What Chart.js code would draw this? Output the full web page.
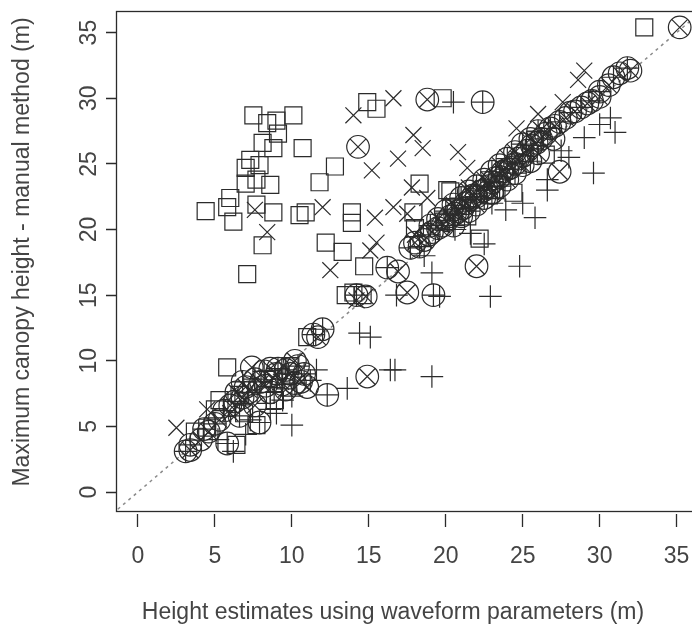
<!DOCTYPE html>
<html>
<head>
<meta charset="utf-8">
<script src="https://cdn.jsdelivr.net/npm/chart.js@4.4.1/dist/chart.umd.min.js"></script>
<style>
  html, body { margin: 0; padding: 0; background: #fff; }
  #wrap { width: 692px; height: 628px; }
</style>
</head>
<body>
<div id="wrap"><canvas id="chart-scatter" width="692" height="628"></canvas></div>
<script>
// Height estimates (waveform) vs manual canopy height, one array per plotting symbol
var xTicks = [0, 5, 10, 15, 20, 25, 30, 35];
var yTicks = [0, 5, 10, 15, 20, 25, 30, 35];
var xTitle = 'Height estimates using waveform parameters (m)';
var yTitle = 'Maximum canopy height - manual method (m)';

// open squares
var squarePts = [
  [4.4, 21.4], [5.8, 21.7], [6.0, 22.4], [6.2, 20.6], [7.0, 23.5], [7.0, 24.7], [7.3, 25.3],
  [7.5, 28.7], [7.7, 21.9], [7.7, 23.8], [7.9, 24.9], [8.1, 26.6], [8.1, 18.8], [7.1, 16.6],
  [8.4, 28.1], [8.6, 23.4], [8.8, 26.2], [8.8, 21.3], [9.0, 28.3], [9.1, 27.3], [10.1, 28.7],
  [10.5, 21.1], [10.9, 21.3], [10.7, 26.2], [11.8, 23.6], [12.8, 24.8], [13.9, 21.3], [13.9, 20.5],
  [12.2, 19.0], [13.3, 18.3], [14.7, 17.2], [13.5, 15.0], [14.0, 15.2], [14.6, 15.0], [11.0, 11.8],
  [17.9, 21.3], [18.0, 20.1], [20.3, 22.9], [14.9, 29.7], [15.5, 29.2], [19.8, 30.0], [18.3, 23.5],
  [20.1, 23.0], [32.9, 35.4], [5.8, 9.5], [4.5, 4.9], [5.3, 7.0], [7.7, 5.1], [6.4, 3.6],
  [8.8, 8.6], [5.0, 6.3], [6.6, 7.4], [8.3, 7.4], [3.7, 4.6], [9.6, 8.5], [24.4, 22.8],
  [22.2, 19.3], [19.9, 20.6], [23.8, 24.5], [25.8, 26.8], [22.8, 22.6], [26.5, 25.7],
  [6.9, 6.0], [8.9, 7.0], [9.9, 9.6], [21.4, 21.0], [23.2, 23.0]
];

// plus signs
var plusPts = [
  [20.5, 29.7], [31.0, 27.4], [30.7, 28.5], [29.6, 24.3], [26.6, 23.8], [26.6, 23.0], [23.9, 21.5],
  [25.8, 20.9], [22.5, 18.9], [24.8, 17.2], [22.9, 14.9], [19.1, 16.7], [16.8, 15.0], [19.6, 14.9],
  [14.4, 12.1], [15.1, 11.8], [11.6, 9.3], [16.4, 9.3], [16.7, 9.3], [19.1, 8.8], [13.6, 7.9],
  [10.0, 5.1], [9.4, 7.0], [6.2, 3.1], [21.6, 19.7], [7.3, 5.5], [8.6, 6.3], [5.2, 4.0],
  [7.0, 4.4], [9.0, 6.0], [11.2, 8.5], [10.0, 7.3], [25.0, 22.0], [28.0, 25.5], [29.0, 27.0],
  [30.0, 28.0], [27.5, 26.0], [23.0, 22.0], [20.6, 20.0], [18.6, 18.0]
];

// diagonal crosses
var crossPts = [
  [16.6, 30.0], [14.0, 28.7], [17.9, 27.2], [18.5, 26.2], [20.8, 25.9], [21.4, 24.7], [15.2, 24.5],
  [16.9, 25.4], [29.0, 32.1], [28.6, 31.4], [27.6, 29.7], [26.0, 28.8], [24.6, 27.7], [12.0, 21.7],
  [15.4, 20.9], [15.5, 19.0], [12.5, 16.9], [15.1, 18.4], [17.8, 23.2], [18.8, 22.4], [16.6, 21.7],
  [17.5, 21.2], [8.4, 19.8], [7.6, 21.5], [2.5, 4.9], [4.5, 6.3], [6.0, 6.0], [7.2, 7.8],
  [8.0, 8.3], [9.3, 8.4], [14.2, 14.6], [18.0, 19.6], [20.5, 21.6], [22.8, 23.8], [24.0, 25.5],
  [26.2, 27.6], [21.5, 23.2]
];

// circle with plus
var circlePlusPts = [
  [3.1, 3.1], [3.4, 3.6], [4.3, 4.8], [5.0, 5.2], [5.8, 3.7], [5.6, 6.2], [6.3, 6.9], [6.6, 5.8],
  [7.2, 7.6], [7.9, 5.3], [8.0, 8.4], [8.6, 7.6], [9.1, 9.4], [9.6, 9.3], [10.2, 8.3], [11.4, 12.0],
  [12.0, 12.4], [12.3, 7.4], [14.2, 15.0], [16.2, 17.1], [17.7, 18.6], [18.3, 18.7], [18.9, 19.6],
  [19.2, 15.0], [19.5, 20.1], [20.1, 20.7], [20.6, 21.2], [21.1, 21.6], [21.6, 22.3], [22.0, 22.5],
  [22.4, 29.7], [22.5, 23.0], [23.0, 23.6], [23.5, 24.0], [24.0, 24.6], [24.5, 25.0], [25.0, 25.6],
  [25.6, 26.4], [26.2, 26.9], [26.8, 27.7], [27.4, 28.2], [28.1, 28.9], [28.8, 29.3], [29.5, 29.8],
  [30.0, 30.5], [30.9, 31.6], [31.8, 32.3],
  [19.0, 20.3], [20.0, 21.4], [21.0, 22.4], [22.0, 23.3], [23.0, 24.4], [24.0, 25.4], [25.0, 26.5],
  [26.0, 27.5], [20.5, 20.3], [21.5, 21.4], [22.5, 22.4], [23.5, 23.3], [24.5, 24.3], [25.5, 25.2],
  [6.8, 8.4], [7.6, 8.6], [8.2, 9.2], [9.4, 8.2], [10.4, 9.6], [10.8, 9.0]
];

// circle with cross
var circleCrossPts = [
  [3.4, 3.2], [4.1, 4.0], [4.6, 4.6], [5.3, 5.5], [6.0, 6.6], [6.8, 7.2], [7.4, 9.5], [7.6, 6.6],
  [8.3, 8.1], [9.0, 9.0], [9.9, 9.0], [10.6, 8.4], [11.0, 8.0], [11.7, 11.8], [14.9, 8.8],
  [14.3, 26.3], [14.8, 14.9], [16.9, 16.8], [17.5, 15.2], [18.0, 19.0], [18.6, 19.2], [18.8, 29.9],
  [19.1, 19.8], [19.8, 20.3], [20.3, 21.0], [20.8, 21.4], [21.3, 22.0], [21.8, 22.6], [22.0, 17.2],
  [22.3, 22.9], [22.8, 23.3], [23.2, 23.9], [23.7, 24.4], [24.2, 24.7], [24.7, 25.4], [25.3, 26.0],
  [25.9, 26.6], [26.5, 27.3], [27.1, 27.9], [27.4, 24.4], [27.8, 28.5], [28.4, 29.0], [29.2, 29.6],
  [30.0, 30.1], [30.6, 31.0], [31.3, 31.9], [32.0, 32.1], [35.2, 35.4],
  [19.5, 20.8], [20.5, 21.9], [21.5, 22.9], [22.5, 23.8], [23.5, 24.9], [24.5, 25.9], [25.5, 26.9],
  [21.0, 21.0], [22.0, 21.9], [23.0, 22.8], [24.0, 23.8], [25.0, 24.9], [26.0, 25.8], [27.0, 26.9],
  [7.0, 8.0], [8.6, 9.4], [9.6, 7.8], [10.2, 10.0], [6.4, 7.6]
];

// 1:1 reference line end points
var oneToOne = [-2, 38];

var INK = '#2b2b2b';
var TEXT = '#444444';
var FONT = '"Liberation Sans", Arial, sans-serif';

function toXY(pts) {
  return pts.map(function (p) { return { x: p[0], y: p[1] }; });
}

function symbolSet(pts, style, radius) {
  return {
    data: toXY(pts),
    pointStyle: style,
    pointRadius: radius,
    pointBorderColor: INK,
    pointBackgroundColor: 'rgba(0,0,0,0)',
    pointBorderWidth: 1.2,
    showLine: false,
    order: 1
  };
}

// box, rotated y tick labels and the axis titles
var framePlugin = {
  id: 'frame',
  afterDraw: function (chart) {
    var ctx = chart.ctx;
    var a = chart.chartArea;
    var ys = chart.scales.y;
    ctx.save();
    ctx.strokeStyle = INK;
    ctx.lineWidth = 1.3;
    ctx.strokeRect(a.left - 0.5, a.top - 0.5, a.right - a.left + 20, a.bottom - a.top);

    ctx.fillStyle = TEXT;
    ctx.font = '23px ' + FONT;
    ctx.textAlign = 'center';
    ctx.textBaseline = 'middle';
    ys.ticks.forEach(function (t) {
      ctx.save();
      ctx.translate(90, ys.getPixelForValue(t.value));
      ctx.rotate(-Math.PI / 2);
      ctx.fillText(String(t.value), 0, 0);
      ctx.restore();
    });

    ctx.fillText(xTitle, 393, 613);
    ctx.save();
    ctx.translate(23, 252);
    ctx.rotate(-Math.PI / 2);
    ctx.fillText(yTitle, 0, 0);
    ctx.restore();
    ctx.restore();
  }
};

var ctx = document.getElementById('chart-scatter');
var chart = new Chart(ctx, {
  type: 'scatter',
  data: {
    datasets: [
      symbolSet(squarePts, 'rect', 12),
      symbolSet(plusPts, 'cross', 11.3),
      symbolSet(crossPts, 'crossRot', 11.3),
      symbolSet(circlePlusPts, 'circle', 11.3),
      symbolSet(circlePlusPts, 'cross', 11.3),
      symbolSet(circleCrossPts, 'circle', 11.3),
      symbolSet(circleCrossPts, 'crossRot', 11.3),
      {
        type: 'line',
        data: [{ x: oneToOne[0], y: oneToOne[0] }, { x: oneToOne[1], y: oneToOne[1] }],
        borderColor: '#8a8a8a',
        borderWidth: 1.5,
        borderDash: [3, 4],
        pointRadius: 0,
        fill: false,
        order: 10
      }
    ]
  },
  options: {
    responsive: false,
    animation: false,
    events: [],
    layout: { autoPadding: false, padding: { top: 12, left: 0, right: 0, bottom: 0 } },
    plugins: {
      legend: { display: false },
      tooltip: { enabled: false },
      title: { display: false }
    },
    scales: {
      x: {
        type: 'linear',
        min: -1.36,
        max: 36.0,
        afterBuildTicks: function (s) {
          s.ticks = xTicks.map(function (v) { return { value: v }; });
        },
        afterFit: function (s) {
          s.height = 116;
          s.paddingLeft = 0;
          s.paddingRight = 0;
        },
        border: { display: false },
        grid: {
          drawOnChartArea: false,
          drawTicks: true,
          tickLength: 15,
          tickColor: INK,
          tickWidth: 1.3,
          tickBorderDash: [0, 2, 13, 60]
        },
        ticks: {
          color: TEXT,
          font: { family: FONT, size: 23 },
          padding: 16,
          maxRotation: 0
        }
      },
      y: {
        type: 'linear',
        min: -1.52,
        max: 36.57,
        afterBuildTicks: function (s) {
          s.ticks = yTicks.map(function (v) { return { value: v }; });
        },
        afterFit: function (s) {
          s.width = 117;
          s.paddingTop = 0;
          s.paddingBottom = 0;
        },
        border: { display: false },
        grid: {
          drawOnChartArea: false,
          drawTicks: true,
          tickLength: 14,
          tickColor: INK,
          tickWidth: 1.3,
          tickBorderDash: [0, 3, 11, 60]
        },
        ticks: { display: false }
      }
    }
  },
  plugins: [framePlugin]
});
</script>
</body>
</html>
